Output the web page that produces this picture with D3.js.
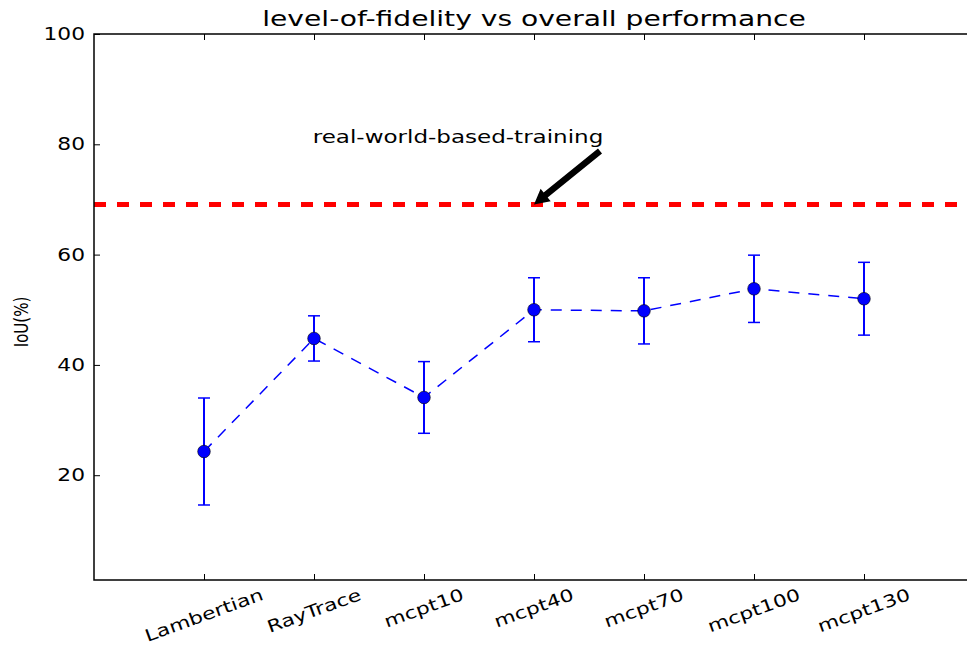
<!DOCTYPE html>
<html>
<head>
<meta charset="utf-8">
<script src="https://cdn.jsdelivr.net/npm/d3@7"></script>
<style>
  body { margin: 0; background: #fff; }
  text { font-family: "DejaVu Sans", sans-serif; fill: #000; }
</style>
</head>
<body>
<div id="chart"></div>
<script>
// chart values
const categories = ["Lambertian", "RayTrace", "mcpt10", "mcpt40", "mcpt70", "mcpt100", "mcpt130"];
const iouMean = [24.3, 44.8, 34.1, 50.0, 49.8, 53.8, 52.0];
const iouErr = [9.7, 4.1, 6.5, 5.8, 6.0, 6.1, 6.6];
const realWorldIoU = 69.1;
const yTicks = [20, 40, 60, 80, 100];
const arrowTail = [3.6, 78.8];   // data coords of the annotation arrow tail
const arrowHead = [3.0, 69.1];   // arrow tip, on the red line

const width = 967;
const height = 648;
const plotLeft = 94, plotRight = 974, plotTop = 34, plotBottom = 580;
const sx = 1.28; // the original figure is stretched horizontally

const svg = d3.select('#chart').append('svg')
    .attr('width', width)
    .attr('height', height);

const x = d3.scaleLinear().domain([-1, 7]).range([plotLeft, plotRight]);
const y = d3.scaleLinear().domain([1, 100]).range([plotBottom, plotTop]);

// red dashed reference line (real-world training)
svg.append('line')
    .attr('x1', plotLeft).attr('x2', plotRight)
    .attr('y1', y(realWorldIoU)).attr('y2', y(realWorldIoU))
    .attr('stroke', '#ff0000')
    .attr('stroke-width', 5)
    .attr('stroke-dasharray', '12,11');

// dashed blue connecting line
const line = d3.line()
    .x((d, i) => x(i))
    .y(d => y(d));
svg.append('path')
    .datum(iouMean)
    .attr('d', line)
    .attr('fill', 'none')
    .attr('stroke', '#0000ff')
    .attr('stroke-width', 1.5)
    .attr('stroke-dasharray', '11,9');

// error bars
const bars = svg.append('g')
    .selectAll('g')
    .data(iouMean)
    .join('g');
bars.append('line')
    .attr('x1', (d, i) => x(i)).attr('x2', (d, i) => x(i))
    .attr('y1', (d, i) => y(d - iouErr[i]))
    .attr('y2', (d, i) => y(d + iouErr[i]))
    .attr('stroke', '#0000ff').attr('stroke-width', 2);
[-1, 1].forEach(function(s) {
    bars.append('line')
        .attr('x1', (d, i) => x(i) - 6).attr('x2', (d, i) => x(i) + 6)
        .attr('y1', (d, i) => y(d + s * iouErr[i]))
        .attr('y2', (d, i) => y(d + s * iouErr[i]))
        .attr('stroke', '#0000ff').attr('stroke-width', 1.5);
});
bars.append('circle')
    .attr('cx', (d, i) => x(i))
    .attr('cy', d => y(d))
    .attr('r', 6.3)
    .attr('fill', '#0000ff')
    .attr('stroke', '#000')
    .attr('stroke-width', 0.6);

// annotation arrow
const ax1 = x(arrowTail[0]), ay1 = y(arrowTail[1]);
const ax2 = x(arrowHead[0]), ay2 = y(arrowHead[1]);
const ang = Math.atan2(ay2 - ay1, ax2 - ax1);
const headLen = 15, headW = 8, shaftW = 3.2;
const bx = ax2 - headLen * Math.cos(ang), by = ay2 - headLen * Math.sin(ang);
const px = -Math.sin(ang), py = Math.cos(ang);
const pts = [
    [ax1 + px * shaftW, ay1 + py * shaftW],
    [bx + px * shaftW, by + py * shaftW],
    [bx + px * headW, by + py * headW],
    [ax2, ay2],
    [bx - px * headW, by - py * headW],
    [bx - px * shaftW, by - py * shaftW],
    [ax1 - px * shaftW, ay1 - py * shaftW]
];
svg.append('path')
    .attr('d', 'M' + pts.map(p => p.join(',')).join('L') + 'Z')
    .attr('fill', '#000');

svg.append('text')
    .attr('transform', `translate(458,143) scale(${sx},1)`)
    .attr('text-anchor', 'middle')
    .style('font-size', '18px')
    .text('real-world-based-training');

// frame
svg.append('rect')
    .attr('x', plotLeft).attr('y', plotTop)
    .attr('width', plotRight - plotLeft).attr('height', plotBottom - plotTop)
    .attr('fill', 'none')
    .attr('stroke', '#000')
    .attr('stroke-width', 1.5);

// y axis (ticks inward, mirrored on right)
svg.append('g')
    .attr('transform', `translate(${plotLeft},0)`)
    .call(d3.axisRight(y).tickValues(yTicks).tickSize(6).tickFormat(''))
    .select('.domain').remove();
svg.append('g')
    .attr('transform', `translate(${plotRight},0)`)
    .call(d3.axisLeft(y).tickValues(yTicks).tickSize(6).tickFormat(''))
    .select('.domain').remove();
svg.append('g').selectAll('text')
    .data(yTicks)
    .join('text')
    .attr('transform', d => `translate(${plotLeft - 9},${y(d)}) scale(${sx},1)`)
    .attr('dy', '0.36em')
    .attr('text-anchor', 'end')
    .style('font-size', '17px')
    .text(d => d);

// x axis ticks inward, bottom and top
const idx = d3.range(categories.length);
svg.append('g')
    .attr('transform', `translate(0,${plotBottom})`)
    .call(d3.axisTop(x).tickValues(idx).tickSize(6).tickFormat(''))
    .select('.domain').remove();
svg.append('g')
    .attr('transform', `translate(0,${plotTop})`)
    .call(d3.axisBottom(x).tickValues(idx).tickSize(6).tickFormat(''))
    .select('.domain').remove();
svg.selectAll('.tick line').attr('stroke', '#000').attr('stroke-width', 1);

// rotated category labels, centred under tick
const rot = 20 * Math.PI / 180;
svg.append('g').selectAll('text')
    .data(categories)
    .join('text')
    .style('font-size', '17px')
    .attr('text-anchor', 'middle')
    .attr('dominant-baseline', 'central')
    .text(d => d)
    .each(function(d, i) {
        const w = this.getComputedTextLength() * sx;
        const h = 17;
        const bh = w * Math.sin(rot) + h * Math.cos(rot);
        const cx = x(i), cy = plotBottom + 6 + bh / 2;
        d3.select(this)
            .attr('transform', `translate(${cx},${cy}) rotate(-20) scale(${sx},1)`);
    });

// title and y label
svg.append('text')
    .attr('transform', `translate(${(plotLeft + plotRight) / 2},26) scale(${sx},1)`)
    .attr('text-anchor', 'middle')
    .style('font-size', '22px')
    .text('level-of-fidelity vs overall performance');

svg.append('text')
    .attr('transform', `translate(28,322) scale(${sx},1) rotate(-90)`)
    .attr('text-anchor', 'middle')
    .style('font-size', '15px')
    .text('IoU(%)');
</script>
</body>
</html>
